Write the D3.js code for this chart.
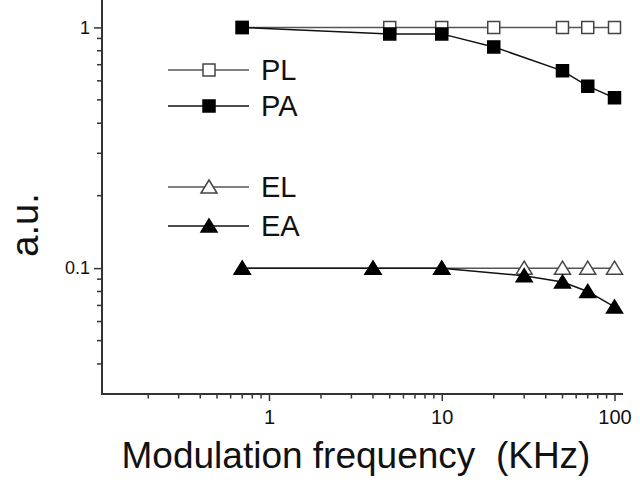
<!DOCTYPE html>
<html>
<head>
<meta charset="utf-8">
<script src="https://cdn.jsdelivr.net/npm/d3@7"></script>
<style>
  body { margin: 0; background: #fff; }
  svg { font-family: "Liberation Sans", Arial, sans-serif; }
</style>
</head>
<body>
<svg width="640" height="482"></svg>
<script>
// data
const plFreq = [0.7, 5, 10, 20, 50, 70, 100];
const plValues = [1, 1, 1, 1, 1, 1, 1];
const paFreq = [0.7, 5, 10, 20, 50, 70, 100];
const paValues = [1, 0.94, 0.94, 0.83, 0.66, 0.57, 0.51];
const elFreq = [0.7, 4, 10, 30, 50, 70, 100];
const elValues = [0.1, 0.1, 0.1, 0.1, 0.1, 0.1, 0.1];
const eaFreq = [0.7, 4, 10, 30, 50, 70, 100];
const eaValues = [0.1, 0.1, 0.1, 0.093, 0.0875, 0.08, 0.069];
const xTickLabels = [1, 10, 100];
const yTickLabels = [0.1, 1];

const svg = d3.select("svg");

// scales
const x = d3.scaleLog().domain([0.108, 112]).range([102, 623]);
const y = d3.scaleLog().domain([0.03, 1.3]).range([394, 0]);

const axisColor = "#333";

// minor ticks
const xMinor = [];
const yMinor = [];
[0.1, 1, 10].forEach(d => {
  for (let k = 2; k <= 9; k++) xMinor.push(d * k);
});
[0.01, 0.1].forEach(d => {
  for (let k = 2; k <= 9; k++) yMinor.push(d * k);
});

// x axis
const xAxis = d3.axisBottom(x)
  .tickValues(xTickLabels)
  .tickFormat(d3.format("d"))
  .tickSize(7)
  .tickPadding(9);
const gx = svg.append("g")
  .attr("transform", "translate(0,394)")
  .call(xAxis);
gx.select(".domain").remove();
gx.selectAll(".tick line").attr("stroke", axisColor).attr("stroke-width", 1.5);
gx.selectAll(".tick text").attr("font-size", 20).attr("fill", "#111");
gx.selectAll(".minor")
  .data(xMinor.filter(d => d > x.domain()[0] && d < x.domain()[1]))
  .enter()
  .append("line")
  .attr("class", "minor")
  .attr("x1", d => x(d)).attr("x2", d => x(d))
  .attr("y1", 0).attr("y2", 4.5)
  .attr("stroke", axisColor).attr("stroke-width", 1.5);

// y axis
const yAxis = d3.axisLeft(y)
  .tickValues(yTickLabels)
  .tickFormat(d => d)
  .tickSize(8)
  .tickPadding(4);
const gy = svg.append("g")
  .attr("transform", "translate(102,0)")
  .call(yAxis);
gy.select(".domain").remove();
gy.selectAll(".tick line").attr("stroke", axisColor).attr("stroke-width", 1.5);
gy.selectAll(".tick text").attr("font-size", 18).attr("fill", "#111");
gy.selectAll(".minor")
  .data(yMinor.filter(d => d > y.domain()[0] && d < y.domain()[1]))
  .enter()
  .append("line")
  .attr("class", "minor")
  .attr("y1", d => y(d)).attr("y2", d => y(d))
  .attr("x1", 0).attr("x2", -5)
  .attr("stroke", axisColor).attr("stroke-width", 1.5);

// axis lines
svg.append("line")
  .attr("x1", 102).attr("x2", 102)
  .attr("y1", 0).attr("y2", 395)
  .attr("stroke", axisColor).attr("stroke-width", 2);
svg.append("line")
  .attr("x1", 101).attr("x2", 623)
  .attr("y1", 394).attr("y2", 394)
  .attr("stroke", axisColor).attr("stroke-width", 2);

// axis titles
svg.append("text")
  .attr("x", 356)
  .attr("y", 468)
  .attr("text-anchor", "middle")
  .attr("font-size", 37)
  .attr("fill", "#111")
  .style("white-space", "pre")
  .text("Modulation frequency  (KHz)");
svg.append("text")
  .attr("transform", "translate(38,225) rotate(-90)")
  .attr("text-anchor", "middle")
  .attr("font-size", 38)
  .attr("fill", "#111")
  .text("a.u.");

// marker shapes
const squarePath = "M-6,-6H6V6H-6Z";
const trianglePath = "M0,-7L8,6H-8Z";

const series = [
  { freq: plFreq, values: plValues, shape: squarePath, filled: false, name: "PL" },
  { freq: elFreq, values: elValues, shape: trianglePath, filled: false, name: "EL" },
  { freq: paFreq, values: paValues, shape: squarePath, filled: true, name: "PA" },
  { freq: eaFreq, values: eaValues, shape: trianglePath, filled: true, name: "EA" }
];

const line = d3.line()
  .x(d => x(d[0]))
  .y(d => y(d[1]));

// lines first, then markers
series.forEach(s => {
  const pts = s.freq.map((f, i) => [f, s.values[i]]);
  svg.append("path")
    .attr("d", line(pts))
    .attr("fill", "none")
    .attr("stroke", s.filled ? "#111" : "#555")
    .attr("stroke-width", 1.5);
});
series.forEach(s => {
  const pts = s.freq.map((f, i) => [f, s.values[i]]);
  svg.selectAll(null)
    .data(pts)
    .enter()
    .append("path")
    .attr("d", s.shape)
    .attr("transform", d => "translate(" + x(d[0]) + "," + y(d[1]) + ")")
    .attr("fill", s.filled ? "#000" : "#fff")
    .attr("stroke", s.filled ? "#000" : "#444")
    .attr("stroke-width", 1.5);
});

// legend
const legendRows = [
  { s: series[0], y: 70 },
  { s: series[2], y: 106 },
  { s: series[1], y: 187 },
  { s: series[3], y: 226 }
];
const legend = svg.selectAll(".key")
  .data(legendRows)
  .enter()
  .append("g")
  .attr("class", "key")
  .attr("transform", d => "translate(0," + d.y + ")");
legend.append("line")
  .attr("x1", 168).attr("x2", 249)
  .attr("stroke", d => d.s.filled ? "#111" : "#555")
  .attr("stroke-width", 1.5);
legend.append("path")
  .attr("d", d => d.s.shape)
  .attr("transform", "translate(209,0)")
  .attr("fill", d => d.s.filled ? "#000" : "#fff")
  .attr("stroke", d => d.s.filled ? "#000" : "#444")
  .attr("stroke-width", 1.5);
legend.append("text")
  .attr("x", 261)
  .attr("y", 10)
  .attr("font-size", 29)
  .attr("fill", "#111")
  .text(d => d.s.name);
</script>
</body>
</html>
